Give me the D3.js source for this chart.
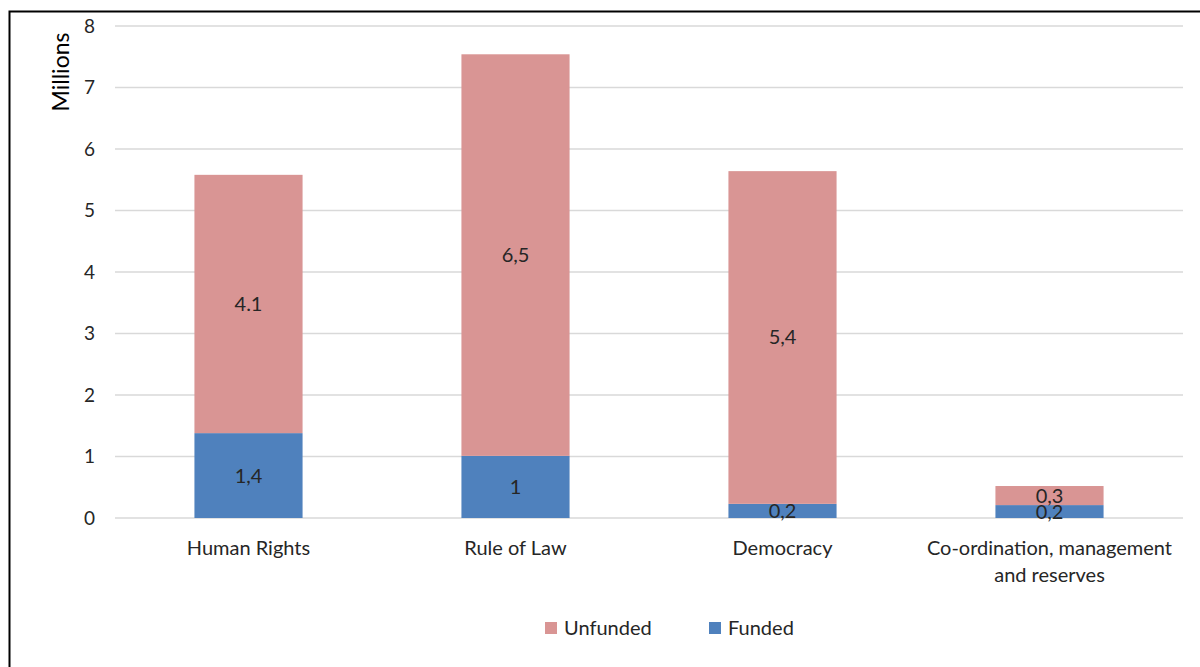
<!DOCTYPE html>
<html>
<head>
<meta charset="utf-8">
<script src="https://cdn.jsdelivr.net/npm/d3@7"></script>
<style>
  body { margin: 0; background: #fff; }
  text { font-family: Lato, "Open Sans", sans-serif; fill: #262626; }
</style>
</head>
<body>
<div class="chart"></div>
<script>
// data (millions)
const categories = ['Human Rights', 'Rule of Law', 'Democracy', 'Co-ordination, management and reserves'];
const categoryLines = [['Human Rights'], ['Rule of Law'], ['Democracy'], ['Co-ordination, management', 'and reserves']];
const funded = [1.38, 1.01, 0.23, 0.21];
const unfunded = [4.2, 6.53, 5.41, 0.31];
const fundedLabels = ['1,4', '1', '0,2', '0,2'];
const unfundedLabels = ['4.1', '6,5', '5,4', '0,3'];
const yTicks = [0, 1, 2, 3, 4, 5, 6, 7, 8];
const seriesNames = ['Unfunded', 'Funded'];

const W = 1200, H = 667;
const margin = {top: 26, right: 17, bottom: 149, left: 115};
const width = W - margin.left - margin.right;
const height = H - margin.top - margin.bottom;

const colors = {Funded: '#4f81bd', Unfunded: '#d99594'};

const svg = d3.select('.chart')
  .append('svg')
  .attr('width', W)
  .attr('height', H);

// outer frame (only left/top visible in the crop)
svg.append('path')
  .attr('d', `M9.5,${H} V11.5 H${W}`)
  .attr('fill', 'none')
  .attr('stroke', '#000')
  .attr('stroke-width', 2);

const g = svg.append('g')
  .attr('transform', `translate(${margin.left},${margin.top})`);

const x = d3.scaleBand()
  .domain(categories)
  .range([0, width])
  .paddingInner(0.595)
  .paddingOuter(0.2975);

const y = d3.scaleLinear()
  .domain([0, 8])
  .range([height, 0]);

// gridlines
g.selectAll('.grid')
  .data(yTicks)
  .enter()
  .append('line')
  .attr('x1', 0)
  .attr('x2', width)
  .attr('y1', d => y(d))
  .attr('y2', d => y(d))
  .attr('stroke', '#d9d9d9')
  .attr('stroke-width', 1.5);

// y axis labels
const yAxis = d3.axisLeft(y).tickValues(yTicks).tickSize(0).tickPadding(20);
g.append('g')
  .call(yAxis)
  .call(a => a.select('.domain').remove())
  .selectAll('text')
  .style('font-size', '19px')
  .style('font-family', 'Lato, "Open Sans", sans-serif')
  .attr('fill', '#262626');

const rows = categories.map((c, i) => ({
  cat: c, funded: funded[i], unfunded: unfunded[i],
  fl: fundedLabels[i], ul: unfundedLabels[i]
}));

// funded
g.selectAll('.funded')
  .data(rows)
  .enter()
  .append('rect')
  .attr('x', d => x(d.cat))
  .attr('width', x.bandwidth())
  .attr('y', d => y(d.funded))
  .attr('height', d => y(0) - y(d.funded))
  .attr('fill', colors.Funded);

// unfunded
g.selectAll('.unfunded')
  .data(rows)
  .enter()
  .append('rect')
  .attr('x', d => x(d.cat))
  .attr('width', x.bandwidth())
  .attr('y', d => y(d.funded + d.unfunded))
  .attr('height', d => y(d.funded) - y(d.funded + d.unfunded))
  .attr('fill', colors.Unfunded);

// data labels
g.selectAll('.flabel')
  .data(rows)
  .enter()
  .append('text')
  .attr('x', d => x(d.cat) + x.bandwidth() / 2)
  .attr('y', d => y(d.funded / 2))
  .attr('dy', '0.35em')
  .attr('text-anchor', 'middle')
  .style('font-size', '20px')
  .text(d => d.fl);

g.selectAll('.ulabel')
  .data(rows)
  .enter()
  .append('text')
  .attr('x', d => x(d.cat) + x.bandwidth() / 2)
  .attr('y', d => y(d.funded + d.unfunded / 2))
  .attr('dy', '0.35em')
  .attr('text-anchor', 'middle')
  .style('font-size', '20px')
  .text(d => d.ul);

// category labels
const cl = g.selectAll('.cat')
  .data(categories)
  .enter()
  .append('text')
  .attr('x', d => x(d) + x.bandwidth() / 2)
  .attr('y', height + 37)
  .attr('text-anchor', 'middle')
  .style('font-size', '20px');
cl.selectAll('tspan')
  .data((d, i) => categoryLines[i])
  .enter()
  .append('tspan')
  .attr('x', function() { return d3.select(this.parentNode).attr('x'); })
  .attr('dy', (d, i) => i === 0 ? 0 : 27)
  .text(d => d);

// axis title
svg.append('text')
  .attr('transform', 'translate(69,72) rotate(-90)')
  .attr('text-anchor', 'middle')
  .style('font-size', '23px')
  .style('fill', '#000')
  .text('Millions');

// legend
const legendX = [545, 709];
const legend = svg.selectAll('.legend')
  .data(seriesNames)
  .enter()
  .append('g')
  .attr('transform', (d, i) => `translate(${legendX[i]},622)`);
legend.append('rect')
  .attr('width', 12)
  .attr('height', 12)
  .attr('fill', d => colors[d]);
legend.append('text')
  .attr('x', 19)
  .attr('y', 6)
  .attr('dy', '0.35em')
  .style('font-size', '20px')
  .text(d => d);
</script>
</body>
</html>
